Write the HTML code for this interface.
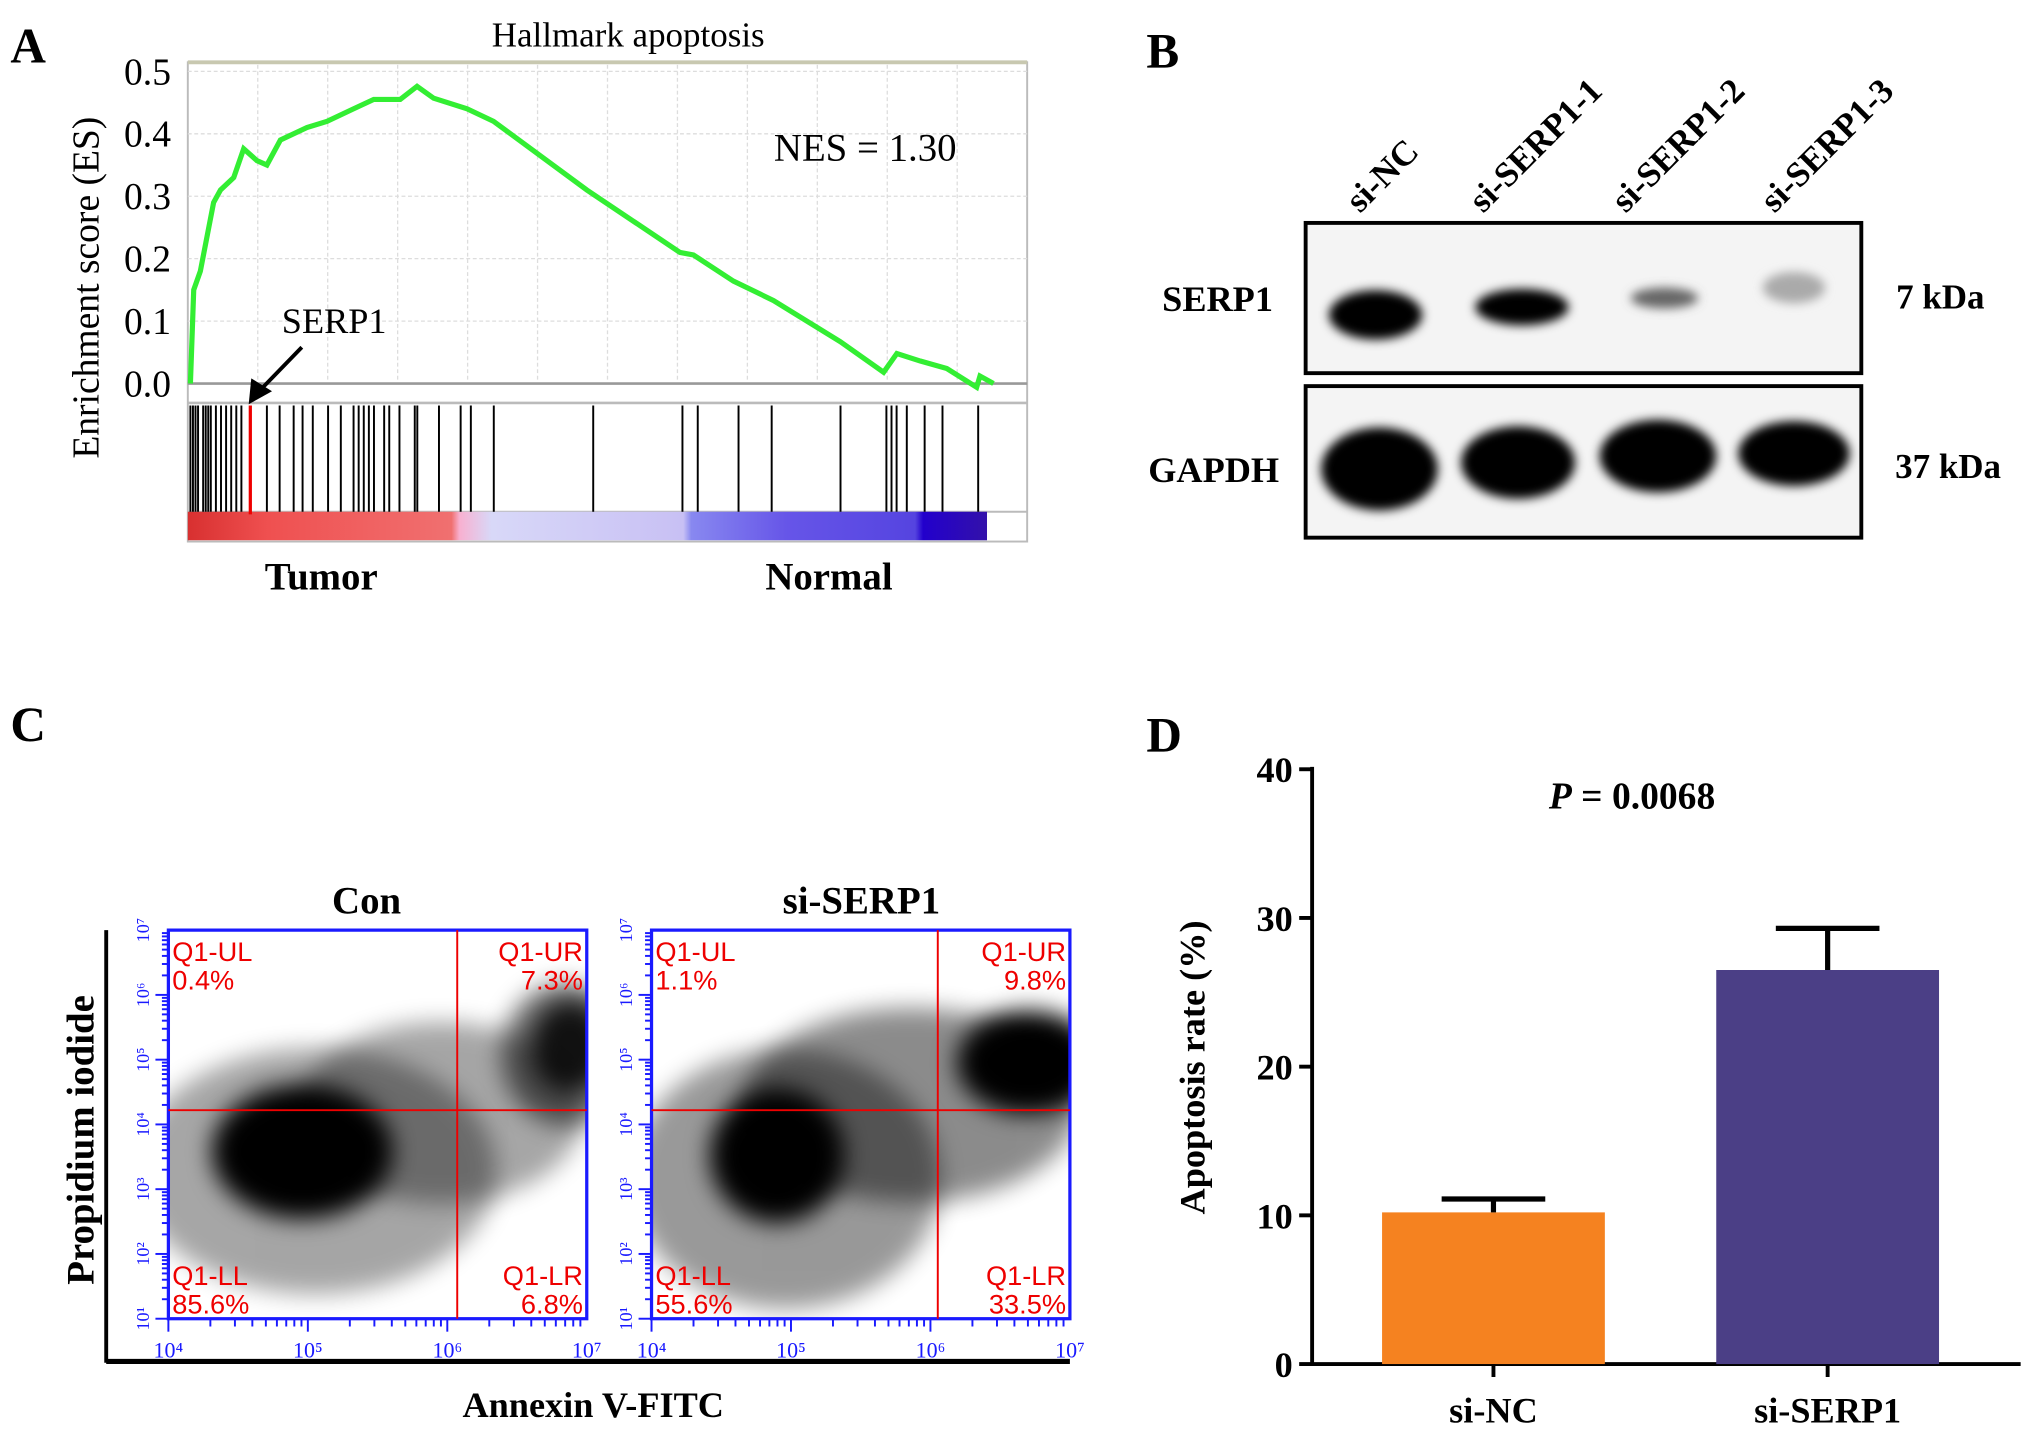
<!DOCTYPE html>
<html><head><meta charset="utf-8"><style>
html,body{margin:0;padding:0;background:#fff}
svg{display:block}
text{font-family:"Liberation Serif",serif}
text.sans{font-family:"Liberation Sans",sans-serif}
</style></head><body>
<svg id="fig" width="2031" height="1438" viewBox="0 0 1568 1110" xmlns="http://www.w3.org/2000/svg">
<defs>
<filter id="blur4" x="-50%" y="-50%" width="200%" height="200%"><feGaussianBlur stdDeviation="4"/></filter>
<filter id="blur10" x="-50%" y="-50%" width="200%" height="200%"><feGaussianBlur stdDeviation="9"/></filter>
<clipPath id="clip1"><rect x="130" y="718" width="323" height="300"/></clipPath>
<clipPath id="clip2"><rect x="503" y="718" width="323" height="300"/></clipPath>
<linearGradient id="rankbar" x1="0" x2="1">
<stop offset="0" stop-color="#d83030"/><stop offset="0.1" stop-color="#ef5050"/><stop offset="0.33" stop-color="#f07070"/>
<stop offset="0.34" stop-color="#f8b0d0"/><stop offset="0.38" stop-color="#d8d8f8"/><stop offset="0.62" stop-color="#c8c0f4"/>
<stop offset="0.63" stop-color="#8888f0"/><stop offset="0.75" stop-color="#6655e8"/><stop offset="0.91" stop-color="#5544e0"/>
<stop offset="0.92" stop-color="#2200cc"/><stop offset="1" stop-color="#3311aa"/></linearGradient>
</defs>

<text x="8" y="48" font-size="38" font-weight="bold">A</text>
<text x="885" y="52" font-size="38" font-weight="bold">B</text>
<text x="8" y="572" font-size="38" font-weight="bold">C</text>
<text x="885" y="580" font-size="38" font-weight="bold">D</text>

<g id="panelA">
<text x="485" y="36" font-size="27" text-anchor="middle">Hallmark apoptosis</text>
<rect x="145" y="48" width="648" height="370" fill="none" stroke="#bbb" stroke-width="1.5"/>
<line x1="145" y1="48" x2="793" y2="48" stroke="#c8c8b0" stroke-width="3"/>
<g id="gseaGrid"></g>
<line x1="145" y1="296" x2="793" y2="296" stroke="#999" stroke-width="2"/>
<line x1="145" y1="311" x2="793" y2="311" stroke="#bbb" stroke-width="2"/>
<line x1="145" y1="395" x2="793" y2="395" stroke="#bbb" stroke-width="1.5"/>
<rect x="145" y="395" width="617" height="22" fill="url(#rankbar)"/>
<g id="gseaTicks"></g>
<g id="gseaHits"></g>
<polyline id="esLine" fill="none" stroke="#33ee33" stroke-width="4"/>
<text x="668" y="124" font-size="30" text-anchor="middle">NES = 1.30</text>
<text x="258" y="257" font-size="28" text-anchor="middle">SERP1</text>
<line x1="233" y1="268" x2="200" y2="302" stroke="#000" stroke-width="3"/>
<polygon points="192,312 194,292 210,302" fill="#000"/>
<text x="76" y="222" font-size="29" text-anchor="middle" transform="rotate(-90 76 222)">Enrichment score (ES)</text>
<text x="248" y="455" font-size="30" font-weight="bold" text-anchor="middle">Tumor</text>
<text x="640" y="455" font-size="30" font-weight="bold" text-anchor="middle">Normal</text>
</g>

<g id="panelB">
<g font-size="27" font-weight="bold">
<text transform="translate(1050,165) rotate(-45)">si-NC</text>
<text transform="translate(1145,165) rotate(-45)">si-SERP1-1</text>
<text transform="translate(1255,165) rotate(-45)">si-SERP1-2</text>
<text transform="translate(1370,165) rotate(-45)">si-SERP1-3</text>
</g>
<rect x="1008" y="172" width="429" height="116" fill="#f4f4f4" stroke="#000" stroke-width="3"/>
<rect x="1008" y="298" width="429" height="117" fill="#f4f4f4" stroke="#000" stroke-width="3"/>
<g filter="url(#blur4)">
<ellipse cx="1062" cy="243" rx="36" ry="19" fill="#000"/>
<ellipse cx="1175" cy="237" rx="36" ry="14" fill="#050505"/>
<ellipse cx="1285" cy="230" rx="26" ry="8" fill="#666"/>
<ellipse cx="1385" cy="222" rx="24" ry="12" fill="#aaa"/>
<ellipse cx="1065" cy="362" rx="45" ry="32" fill="#000"/>
<ellipse cx="1172" cy="357" rx="44" ry="28" fill="#000"/>
<ellipse cx="1280" cy="352" rx="45" ry="28" fill="#000"/>
<ellipse cx="1385" cy="350" rx="43" ry="25" fill="#000"/>
</g>
<text x="940" y="240" font-size="28" font-weight="bold" text-anchor="middle">SERP1</text>
<text x="937" y="372" font-size="28" font-weight="bold" text-anchor="middle">GAPDH</text>
<text x="1498" y="238" font-size="27" font-weight="bold" text-anchor="middle">7 kDa</text>
<text x="1504" y="369" font-size="27" font-weight="bold" text-anchor="middle">37 kDa</text>
</g>

<g id="panelC">
<text x="283" y="705" font-size="30" font-weight="bold" text-anchor="middle">Con</text>
<text x="665" y="705" font-size="30" font-weight="bold" text-anchor="middle">si-SERP1</text>
<line x1="82" y1="718" x2="82" y2="1052" stroke="#000" stroke-width="3"/>
<line x1="82" y1="1051" x2="826" y2="1051" stroke="#000" stroke-width="4"/>
<text x="72" y="880" font-size="30" font-weight="bold" text-anchor="middle" transform="rotate(-90 72 880)">Propidium iodide</text>
<text x="458" y="1094" font-size="28" font-weight="bold" text-anchor="middle">Annexin V-FITC</text>
<g id="flow1"></g>
<g id="flow2"></g>
</g>

<g id="panelD">
<g id="barAxis"></g>
<g id="bars"></g>
<text x="1260" y="624" font-size="29" font-weight="bold" text-anchor="middle"><tspan font-style="italic">P</tspan> = 0.0068</text>
<text x="930" y="824" font-size="28" font-weight="bold" text-anchor="middle" transform="rotate(-90 930 824)">Apoptosis rate (%)</text>
</g>
</svg>
<script>
const NS="http://www.w3.org/2000/svg";
function mk(tag,attrs,parent){const e=document.createElementNS(NS,tag);for(const k in attrs)e.setAttribute(k,attrs[k]);parent.appendChild(e);return e;}

// ---- Panel A data ----
const esTicks=[0.0,0.1,0.2,0.3,0.4,0.5];
const esRank=[0,1.3,3.9,9.1,11.8,17,20.9,26.1,30,35.3,45.7,53.6,64,71.9,82.3,88.9,95.4,108.5,118.9,155.5,192,197.3,213,228.7,254.9,271.9,277.1,286.3,296.7,308.4,309.7,315];
const esValues=[0,0.15,0.18,0.29,0.31,0.33,0.376,0.357,0.35,0.39,0.41,0.42,0.44,0.455,0.455,0.476,0.457,0.44,0.42,0.31,0.21,0.206,0.164,0.133,0.067,0.018,0.048,0.036,0.024,-0.006,0.012,0];
const hitRanks=[0,1,2,3,5,6,7,8,10,12,14,16,18,20,30,35,40.5,44,48,54,59,64,66,68,70,72,76,78,82,88,89,97.5,106,110,119,158,193,199,215,228,255,273,275,277,281,288,295,309];
const serpRank=23.5;
const esX=r=>147+r*(767-147)/315;
const esY=v=>296-v*482;
const gGrid=document.getElementById('gseaGrid');
for(let i=1;i<6;i++){mk('line',{x1:145,x2:793,y1:esY(i*0.1),y2:esY(i*0.1),stroke:'#ddd','stroke-dasharray':'3,2'},gGrid);}
for(let i=1;i<12;i++){const x=145+i*54;mk('line',{x1:x,x2:x,y1:50,y2:294,stroke:'#ddd','stroke-dasharray':'3,2'},gGrid);}
const gT=document.getElementById('gseaTicks');
esTicks.forEach(v=>{const t=mk('text',{x:132,y:esY(v)+10,'font-size':29,'text-anchor':'end'},gT);t.textContent=v.toFixed(1);

});
const gH=document.getElementById('gseaHits');
hitRanks.forEach(r=>{const l=mk('line',{x1:esX(r),x2:esX(r),y1:313,y2:395,stroke:'#000','stroke-width':1.5},gH);

});
const sl=mk('line',{x1:esX(serpRank),x2:esX(serpRank),y1:313,y2:397,stroke:'#e00','stroke-width':2.5},gH);


document.getElementById('esLine').setAttribute('points',esRank.map((r,i)=>esX(r)+','+esY(esValues[i])).join(' '));

// ---- Panel C ----
const flowTicks=['10¹','10²','10³','10⁴','10⁵','10⁶','10⁷'];
const xTicks=['10⁴','10⁵','10⁶','10⁷'];
const conQuad=['0.4%','7.3%','85.6%','6.8%'];
const siQuad=['1.1%','9.8%','55.6%','33.5%'];
const conClusters=[[0.35,0.62,140,95,0.35],[0.65,0.47,110,70,0.35],[0.95,0.32,50,55,0.55],[0.32,0.57,70,52,1],[0.96,0.3,30,35,0.85]];
const siClusters=[[0.32,0.64,120,100,0.4],[0.62,0.45,130,75,0.45],[0.3,0.58,52,52,1],[0.9,0.34,55,40,1]];
function flowPlot(g,x0,quads,clusters,gateX,clip){
  const w=323,h=300,y0=718;
  mk('rect',{x:x0,y:y0,width:w,height:h,fill:'#fff'},g);
  const cg=mk('g',{'clip-path':'url(#'+clip+')'},g);
  clusters.forEach(c=>{const e=mk('ellipse',{cx:x0+c[0]*w,cy:y0+c[1]*h,rx:c[2],ry:c[3],fill:'#000',opacity:c[4],filter:'url(#blur10)'},cg);
    
    });
  mk('rect',{x:x0,y:y0,width:w,height:h,fill:'none',stroke:'#1a1aff','stroke-width':2.5},g);
  mk('line',{x1:x0+gateX,x2:x0+gateX,y1:y0,y2:y0+h,stroke:'#e00','stroke-width':1.5},g);
  mk('line',{x1:x0,x2:x0+w,y1:857,y2:857,stroke:'#e00','stroke-width':1.5},g);
  for(let i=0;i<7;i++){const y=y0+h-i*h/6;
    for(let k=0;k<9&&i<6;k++){const yy=y-Math.log10(k+1)*h/6;mk('line',{x1:x0-(k==0?10:5),x2:x0,y1:yy,y2:yy,stroke:'#1a1aff','stroke-width':1.5},g);}
    const t=mk('text',{x:x0-15,y:y,'font-size':14,fill:'#1a1aff','text-anchor':'middle',transform:`rotate(-90 ${x0-15} ${y})`},g);t.textContent=flowTicks[i];
    
    }
  for(let i=0;i<4;i++){const x=x0+i*w/3;
    for(let k=0;k<9&&i<3;k++){const xx=x+Math.log10(k+1)*w/3;mk('line',{x1:xx,x2:xx,y1:y0+h,y2:y0+h+(k==0?10:6),stroke:'#1a1aff','stroke-width':1.5},g);}
    const t=mk('text',{x:x,y:y0+h+30,'font-size':17,fill:'#1a1aff','text-anchor':'middle'},g);t.textContent=xTicks[i];
    
    }
  const pos=[[x0+3,742,'start','Q1-UL'],[x0+w-3,742,'end','Q1-UR'],[x0+3,992,'start','Q1-LL'],[x0+w-3,992,'end','Q1-LR']];
  pos.forEach((p,i)=>{const a=mk('text',{x:p[0],y:p[1],'font-size':21,fill:'#e00','text-anchor':p[2],'class':'sans'},g);a.textContent=p[3];
    
    
    const b=mk('text',{x:p[0],y:p[1]+22,'font-size':21,fill:'#e00','text-anchor':p[2],'class':'sans'},g);b.textContent=quads[i];
    
    });
}
flowPlot(document.getElementById('flow1'),130,conQuad,conClusters,223,'clip1');
flowPlot(document.getElementById('flow2'),503,siQuad,siClusters,221,'clip2');

// ---- Panel D ----
const barCats=['si-NC','si-SERP1'];
const barVals=[10.2,26.5];
const barErrs=[0.9,2.8];
const barColors=['#f58220','#4b3f86'];
const yTicks=[0,10,20,30,40];
const yD=v=>1053-v*11.48;
const xD=i=>1153+i*258;
const gA=document.getElementById('barAxis');
mk('line',{x1:1013,x2:1013,y1:592,y2:1054,stroke:'#000','stroke-width':3},gA);
mk('line',{x1:1012,x2:1560,y1:1053,y2:1053,stroke:'#000','stroke-width':3},gA);
yTicks.forEach(v=>{mk('line',{x1:1003,x2:1013,y1:yD(v),y2:yD(v),stroke:'#000','stroke-width':3},gA);
  const t=mk('text',{x:998,y:yD(v)+10,'font-size':28,'font-weight':'bold','text-anchor':'end'},gA);t.textContent=v;
  
  });
const gB=document.getElementById('bars');
barCats.forEach((c,i)=>{const cx=xD(i),w=172;
  const r=mk('rect',{x:cx-w/2,y:yD(barVals[i]),width:w,height:yD(0)-yD(barVals[i]),fill:barColors[i]},gB);
  
  
  const e=mk('path',{d:`M${cx} ${yD(barVals[i])} V${yD(barVals[i]+barErrs[i])} M${cx-40} ${yD(barVals[i]+barErrs[i])} H${cx+40}`,stroke:'#000','stroke-width':4,fill:'none'},gB);
  
  
  mk('line',{x1:cx,x2:cx,y1:1053,y2:1063,stroke:'#000','stroke-width':3},gB);
  const t=mk('text',{x:cx,y:1098,'font-size':28,'font-weight':'bold','text-anchor':'middle'},gB);t.textContent=c;
  
  });
</script>
</body></html>
